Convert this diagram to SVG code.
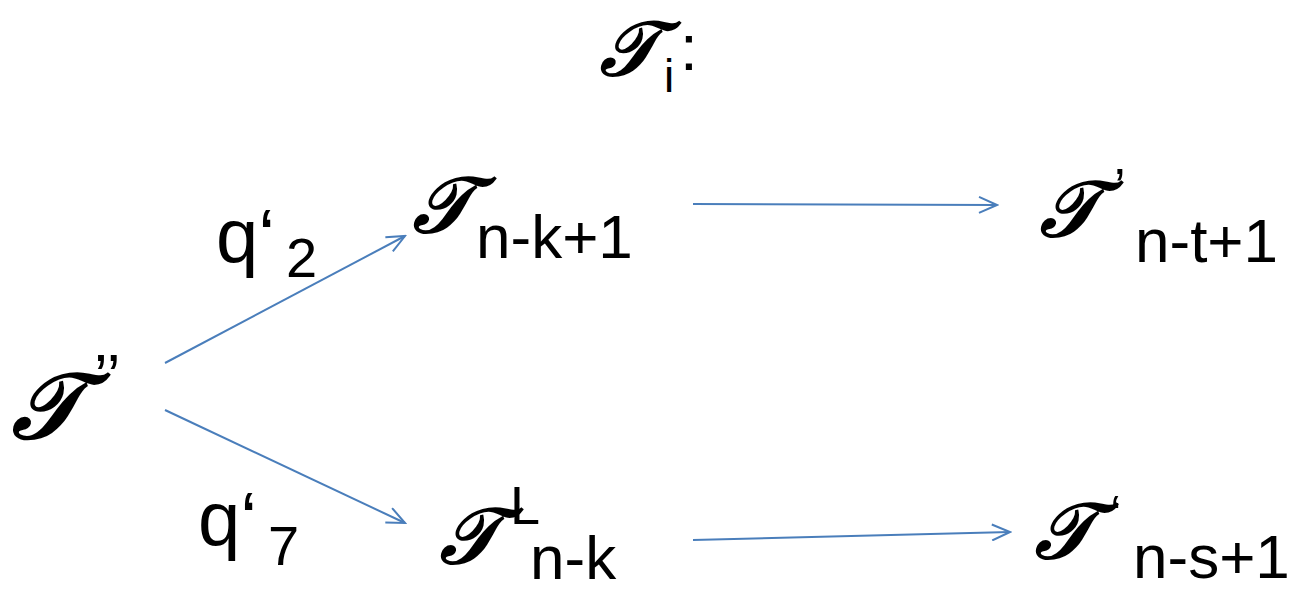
<svg xmlns="http://www.w3.org/2000/svg" width="1293" height="591" viewBox="0 0 1293 591">
<defs>
<marker id="ah" markerWidth="22" markerHeight="18" refX="20" refY="9" orient="auto" markerUnits="userSpaceOnUse">
<path d="M2,1 L20,9 L2,17" fill="none" stroke="#4a7ebb" stroke-width="2"/>
</marker>
<style>
.t{font-family:"Liberation Sans",Arial,sans-serif;fill:#000}
.s{font-family:"DejaVu Serif","DejaVu Sans","Noto Sans",serif;font-weight:bold;font-style:italic;fill:#000}
.c{stroke:#4a7ebb;stroke-width:2;fill:none;marker-end:url(#ah)}
</style>
</defs>
<rect width="1293" height="591" fill="#fff"/>
<g id="connectors">
<line class="c" x1="165" y1="363" x2="405" y2="236"/>
<line class="c" x1="165" y1="410" x2="405" y2="523"/>
<line class="c" x1="693" y1="204" x2="997" y2="205"/>
<line class="c" x1="693" y1="540" x2="1010" y2="532"/>
</g>
<g id="title">
<text class="s" x="600" y="75" font-size="76">𝒯</text>
<text class="t" x="664" y="92" font-size="46">i</text>
<text class="t" x="680" y="70" font-size="64">:</text>
</g>
<g id="node-root">
<text class="s" x="12" y="438" font-size="92">𝒯</text>
<text class="t" x="94" y="397" font-size="62">’’</text>
</g>
<g id="node-nk1">
<text class="s" x="413" y="232" font-size="78">𝒯</text>
<text class="t" x="476" y="258" font-size="62">n-k+1</text>
</g>
<g id="node-nk">
<text class="s" x="440" y="563" font-size="78">𝒯</text>
<text class="t" x="510" y="524" font-size="54">L</text>
<text class="t" x="530" y="579" font-size="62">n-k</text>
</g>
<g id="node-nt1">
<text class="s" x="1040" y="236" font-size="78">𝒯</text>
<text class="t" x="1114" y="205" font-size="52">’</text>
<text class="t" x="1135" y="262" font-size="62">n-t+1</text>
</g>
<g id="node-ns1">
<text class="s" x="1035" y="558" font-size="78">𝒯</text>
<text class="t" x="1110" y="532" font-size="52">‘</text>
<text class="t" x="1133" y="578" font-size="62">n-s+1</text>
</g>
<g id="label-q2">
<text class="t" x="216" y="262" font-size="76">q‘</text>
<text class="t" x="286" y="277" font-size="56">2</text>
</g>
<g id="label-q7">
<text class="t" x="198" y="545" font-size="76">q‘</text>
<text class="t" x="268" y="565" font-size="56">7</text>
</g>
</svg>
